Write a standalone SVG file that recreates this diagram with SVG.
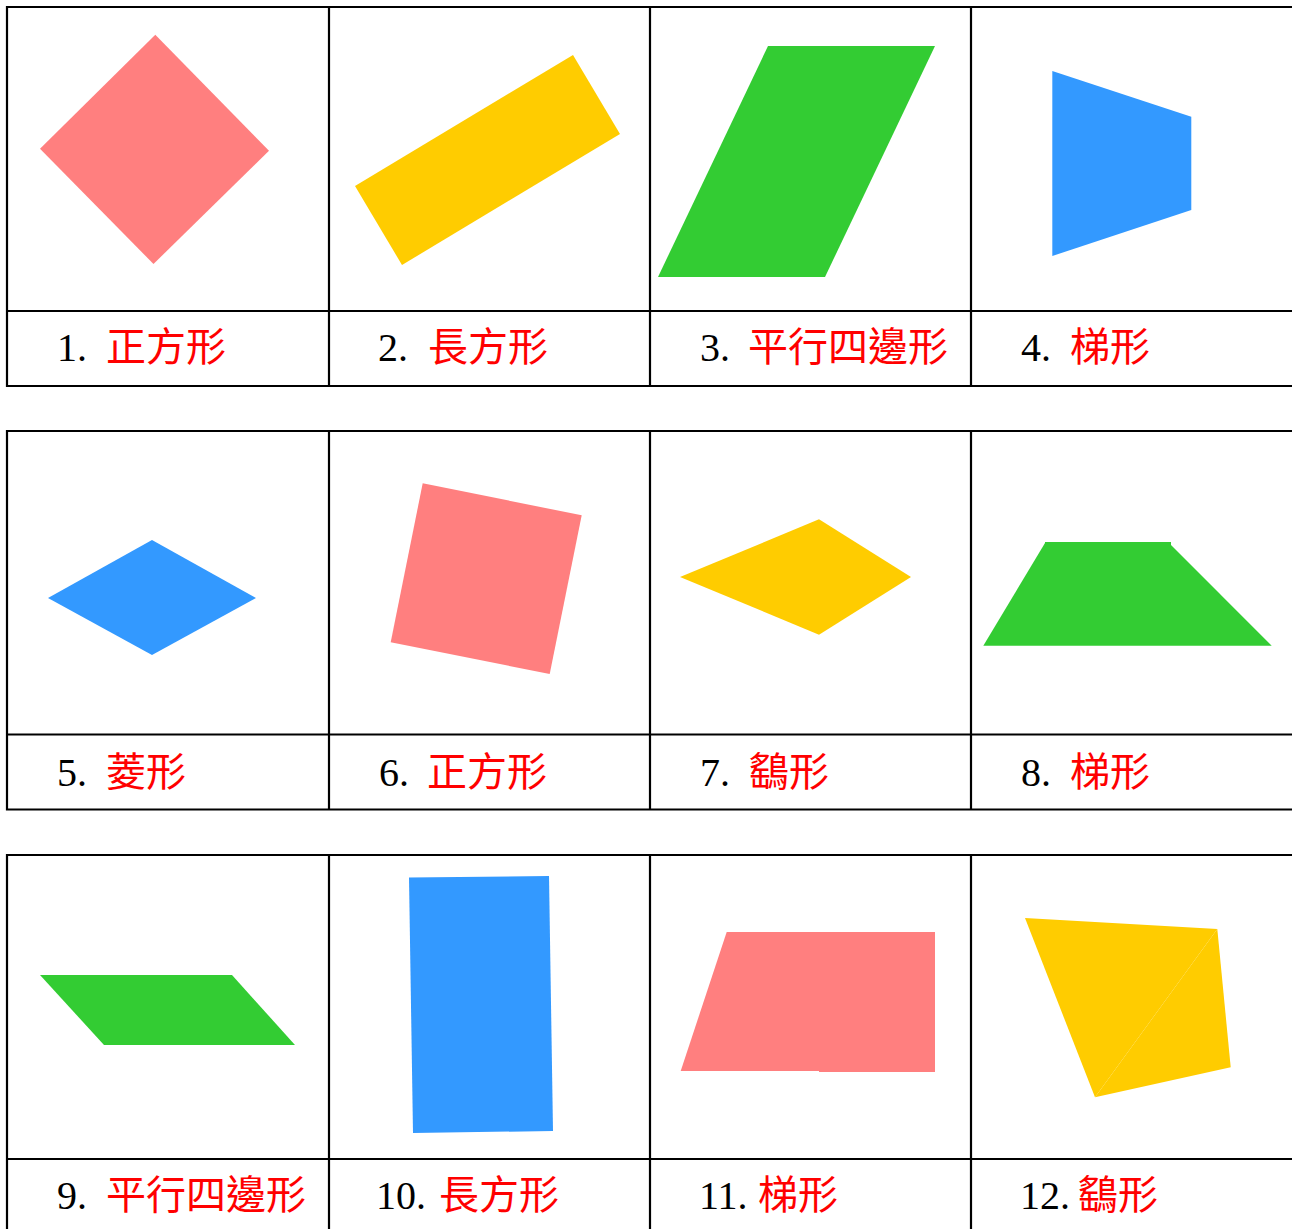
<svg xmlns="http://www.w3.org/2000/svg" width="1292" height="1229" viewBox="0 0 1292 1229">
<style>
.grid{stroke:#000;stroke-width:2.2;fill:none}
.num{font-family:"Liberation Serif","Times New Roman",serif;font-size:40px;fill:#000}
.name{font-family:"Noto Sans CJK TC","Noto Sans CJK SC",sans-serif;font-size:40px;fill:#FF0000}
.pink{fill:#FF7F7F}
.yellow{fill:#FFCC00}
.green{fill:#33CC33}
.blue{fill:#3399FF}
</style>
<rect width="1292" height="1229" fill="#fff"/>
<g id="table-lines" class="grid">
  <path d="M7,7 H1292 M7,311 H1292 M7,386 H1292 M7,6 V387 M329,7 V386 M650,7 V386 M971,7 V386"/>
  <path d="M7,431 H1292 M7,734.5 H1292 M7,809.5 H1292 M7,430 V810.5 M329,431 V809 M650,431 V809 M971,431 V809"/>
  <path d="M7,855 H1292 M7,1159 H1292 M7,854 V1229 M329,855 V1229 M650,855 V1229 M971,855 V1229"/>
</g>
<g id="cell1">
  <polygon class="pink" points="155.3,34.7 269,150.7 153.5,264 40,148.7"/>
  <text class="num" x="57" y="361">1.</text><text class="name" x="106" y="361">正方形</text>
</g>
<g id="cell2">
  <polygon class="yellow" points="355,186 573,55 620,134 402,265"/>
  <text class="num" x="378" y="361">2.</text><text class="name" x="428" y="361">長方形</text>
</g>
<g id="cell3">
  <polygon class="green" points="768,46 935,46 825,277 658,277"/>
  <text class="num" x="700" y="361">3.</text><text class="name" x="748" y="361">平行四邊形</text>
</g>
<g id="cell4">
  <polygon class="blue" points="1052.3,71 1191.3,116.7 1191.3,210 1052.3,256"/>
  <text class="num" x="1021" y="361">4.</text><text class="name" x="1070" y="361">梯形</text>
</g>
<g id="cell5">
  <polygon class="blue" points="152,540 256,598 152,655 48,598"/>
  <text class="num" x="57" y="785.5">5.</text><text class="name" x="106" y="785.5">菱形</text>
</g>
<g id="cell6">
  <polygon class="pink" points="422.7,483.3 581.7,515.3 549.7,674 390.7,642.3"/>
  <text class="num" x="379" y="785.5">6.</text><text class="name" x="427" y="785.5">正方形</text>
</g>
<g id="cell7">
  <polygon class="yellow" points="680,577 819,519.3 819,634.7"/>
  <polygon class="yellow" points="819,519.3 911,577 819,634.7"/>
  <text class="num" x="700" y="785.5">7.</text><text class="name" x="749" y="785.5">鷂形</text>
</g>
<g id="cell8">
  <polygon class="green" points="1045,542 1171,542 1171,645.7 1045,645.7"/>
  <polygon class="green" points="1045,543 1045,645.7 983.3,645.7"/>
  <polygon class="green" points="1171,545 1271.7,645.7 1171,645.7"/>
  <text class="num" x="1021" y="785.5">8.</text><text class="name" x="1070" y="785.5">梯形</text>
</g>
<g id="cell9">
  <polygon class="green" points="40,975 232,975 295,1045 104,1045"/>
  <text class="num" x="57" y="1209">9.</text><text class="name" x="106" y="1209">平行四邊形</text>
</g>
<g id="cell10">
  <polygon class="blue" points="409,877.5 549,876 553,1131 413,1133"/>
  <text class="num" x="376" y="1209">10.</text><text class="name" x="439" y="1209">長方形</text>
</g>
<g id="cell11">
  <polygon class="pink" points="726.7,932 819,932 819,1071 680.7,1071"/>
  <polygon class="pink" points="819,932 935,932 935,1072 819,1072"/>
  <text class="num" x="699" y="1209">11.</text><text class="name" x="758" y="1209">梯形</text>
</g>
<g id="cell12">
  <polygon class="yellow" points="1025,918 1217.3,929 1095,1097.3"/>
  <polygon class="yellow" points="1217.3,929 1230.7,1067.3 1095,1097.3"/>
  <text class="num" x="1020" y="1209">12.</text><text class="name" x="1078" y="1209">鷂形</text>
</g>
</svg>
